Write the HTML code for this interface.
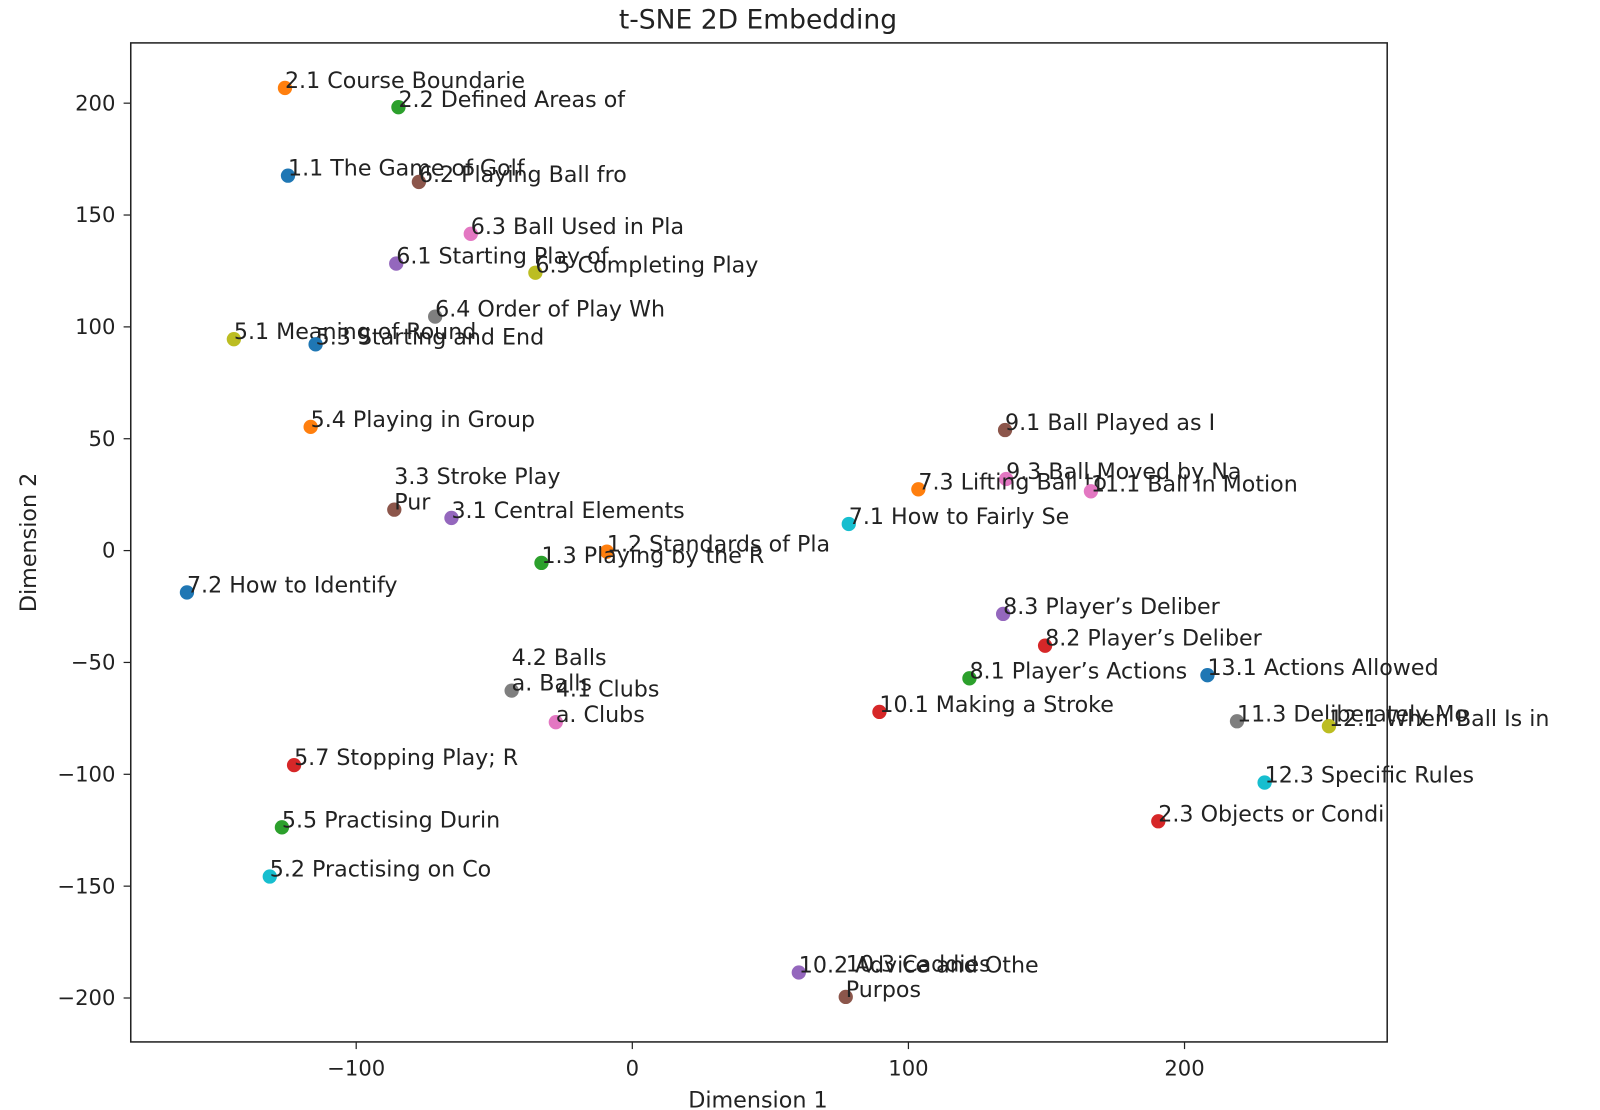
<!DOCTYPE html>
<html><head><meta charset="utf-8"><style>
body{margin:0;background:#fff;}
svg{display:block;font-family:"DejaVu Sans","Liberation Sans",sans-serif;}
</style></head><body>
<svg id="chart" width="1600" height="1110" viewBox="0 0 1600 1110">
<rect width="1600" height="1110" fill="#fff"/>
<g transform="scale(1.0215)">
<text x="742" y="28" font-size="26" text-anchor="middle" fill="#222">t-SNE 2D Embedding</text>
<g id="axes"></g>
<g id="points"></g>
<rect x="128" y="42" width="1230" height="978" fill="none" stroke="#222" stroke-width="1.5"/>
<text x="742" y="1084" font-size="21.8" text-anchor="middle" fill="#222">Dimension 1</text>
<text transform="translate(35,531) rotate(-90)" font-size="21.8" text-anchor="middle" fill="#222">Dimension 2</text>
</g>
</svg>
<script>
const labels = ["2.1 Course Boundarie","2.2 Defined Areas of","1.1 The Game of Golf","6.2 Playing Ball fro","6.3 Ball Used in Pla","6.1 Starting Play of","6.5 Completing Play","6.4 Order of Play Wh","5.1 Meaning of Round","5.3 Starting and End","5.4 Playing in Group","9.1 Ball Played as I","3.3 Stroke Play\nPur","3.1 Central Elements","9.3 Ball Moved by Na","7.3 Lifting Ball to","11.1 Ball in Motion","7.1 How to Fairly Se","1.2 Standards of Pla","1.3 Playing by the R","7.2 How to Identify","8.3 Player’s Deliber","8.2 Player’s Deliber","13.1 Actions Allowed","8.1 Player’s Actions","4.2 Balls\na. Balls","4.1 Clubs\na. Clubs","10.1 Making a Stroke","11.3 Deliberately Mo","12.1 When Ball Is in","5.7 Stopping Play; R","12.3 Specific Rules","2.3 Objects or Condi","5.5 Practising Durin","5.2 Practising on Co","10.2 Advice and Othe","10.3 Caddies\nPurpos"];
const xVals = [-125.8,-84.7,-124.7,-77.3,-58.5,-85.5,-35.1,-71.4,-144.3,-114.7,-116.5,135.0,-86.2,-65.5,135.4,103.6,166.1,78.4,-9.2,-32.9,-161.3,134.3,149.5,208.3,122.1,-43.7,-27.7,89.5,219.0,252.3,-122.5,229.0,190.5,-126.9,-131.3,60.3,77.3];
const yVals = [206.8,198.2,167.6,164.8,141.6,128.3,124.2,104.6,94.5,92.2,55.3,53.9,18.3,14.6,32.0,27.4,26.5,11.9,-0.5,-5.5,-18.7,-28.3,-42.5,-55.7,-57.1,-62.6,-76.7,-72.1,-76.3,-78.5,-95.9,-103.7,-121.0,-123.7,-145.7,-188.6,-199.5];
const colorIdx = [1,2,0,5,6,4,8,7,8,0,1,5,5,4,6,1,6,9,1,2,0,4,3,0,2,7,6,3,7,8,3,9,3,2,9,4,5];
const xTicks = [-100,0,100,200];
const yTicks = [-200,-150,-100,-50,0,50,100,150,200];
const palette = ["#1f77b4","#ff7f0e","#2ca02c","#d62728","#9467bd","#8c564b","#e377c2","#7f7f7f","#bcbd22","#17becf"];
const NS="http://www.w3.org/2000/svg";
const sx = v => 619 + v*2.703;
const sy = v => 539 - v*2.19;
const axes=document.getElementById('axes'), pts=document.getElementById('points');
function mk(tag,attrs,parent){const e=document.createElementNS(NS,tag);for(const k in attrs)e.setAttribute(k,attrs[k]);parent.appendChild(e);return e;}
const fmt = v => v<0 ? "\u2212"+Math.abs(v) : String(v);
xTicks.forEach(t=>{
  const x=sx(t);
  const l=mk('line',{x1:x,x2:x,y1:1020,y2:1027,stroke:'#222','stroke-width':1.2},axes);
  
  
  const tx=mk('text',{x:x,y:1053,'font-size':20.7,'text-anchor':'middle',fill:'#222'},axes);
  tx.textContent=fmt(t);
  
  
});
yTicks.forEach(t=>{
  const y=sy(t);
  const l=mk('line',{x1:121,x2:128,y1:y,y2:y,stroke:'#222','stroke-width':1.2},axes);
  
  
  const tx=mk('text',{x:113,y:y+7,'font-size':20.7,'text-anchor':'end',fill:'#222'},axes);
  tx.textContent=fmt(t);
  
  
});
labels.forEach((lab,i)=>{
  const x=sx(xVals[i]), y=sy(yVals[i]);
  const c=mk('circle',{cx:x,cy:y,r:7,fill:palette[colorIdx[i]]},pts);
  
  
  const lines=lab.split("\n");
  lines.forEach((ln,j)=>{
    const t=mk('text',{x:x,y:y-(lines.length-1-j)*25,'font-size':21.7,fill:'#222'},pts);
    t.textContent=ln;
    
    
  });
});
</script>
</body></html>
